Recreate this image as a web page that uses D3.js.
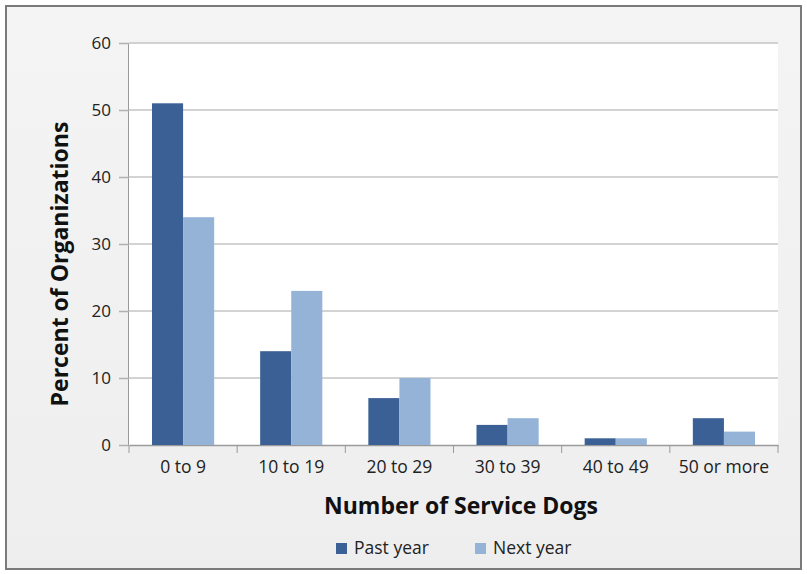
<!DOCTYPE html>
<html><head><meta charset="utf-8">
<script src="https://cdn.jsdelivr.net/npm/d3@7"></script>
<style>body{margin:0;background:#fff;}svg{display:block;}</style>
</head><body>
<script>
const categories = ["0 to 9","10 to 19","20 to 29","30 to 39","40 to 49","50 or more"];
const pastYear = [51,14,7,3,1,4];
const nextYear = [34,23,10,4,1,2];
const seriesNames = ["Past year","Next year"];
const yTicks = [0,10,20,30,40,50,60];
const colors = ["#3a6095","#95b3d7"];

(function(){
const W=807,H=574;
const svg=d3.select("body").append("svg").attr("width",W).attr("height",H);
const defs=svg.append("defs");
const g1=defs.append("linearGradient").attr("id","bg").attr("x1",0).attr("y1",0).attr("x2",0).attr("y2",1);
g1.append("stop").attr("offset","0%").attr("stop-color","#f4f4f4");
g1.append("stop").attr("offset","100%").attr("stop-color","#eeeeee");
svg.append("rect").attr("x",6).attr("y",6).attr("width",795).attr("height",563)
  .attr("fill","url(#bg)").attr("stroke","#7a7a7a").attr("stroke-width",2);

const pl=129,pr=778,pt=43,pb=445;
svg.append("rect").attr("x",pl).attr("y",pt).attr("width",pr-pl).attr("height",pb-pt).attr("fill","#fff");

const x=d3.scaleBand().domain(categories).range([pl,pr]).paddingInner(0).paddingOuter(0);
const x1=d3.scaleBand().domain(seriesNames).range([0,x.bandwidth()]).paddingInner(0).paddingOuter(0.74);
const y=d3.scaleLinear().domain([0,60]).range([pb,pt]);

const font="Open Sans, Liberation Sans, sans-serif";
svg.append("g").selectAll("line").data(yTicks.filter(d=>d>0)).join("line")
  .attr("x1",pl).attr("x2",pr).attr("y1",d=>y(d)).attr("y2",d=>y(d))
  .attr("stroke","#c4c4c4").attr("stroke-width",1.6);

const ya=svg.append("g").attr("transform",`translate(${pl},0)`)
  .call(d3.axisLeft(y).tickValues(yTicks).tickSize(10).tickPadding(8));
ya.select(".domain").attr("stroke","#9a9a9a").attr("d",`M-0.5,${pt}V${pb}`);
ya.selectAll(".tick line").attr("stroke","#b0b0b0").attr("stroke-width",1.5);
ya.selectAll("text").attr("font-family",font).attr("font-size",17).attr("fill","#222");

const xa=svg.append("g").attr("transform",`translate(0,${pb})`)
  .call(d3.axisBottom(x).tickSize(0).tickPadding(10));
xa.select(".domain").attr("stroke","#9a9a9a").attr("stroke-width",1.5);
xa.selectAll("text").attr("font-family",font).attr("font-size",17.5).attr("fill","#222").attr("dy","1.05em");
svg.append("g").selectAll("line").data(d3.range(categories.length+1)).join("line")
  .attr("x1",i=>pl+i*x.step()).attr("x2",i=>pl+i*x.step())
  .attr("y1",pb).attr("y2",pb+8).attr("stroke","#9a9a9a");

const data=categories.map((c,i)=>({c,vals:[pastYear[i],nextYear[i]]}));
const grp=svg.append("g").selectAll("g").data(data).join("g").attr("transform",d=>`translate(${x(d.c)},0)`);
grp.selectAll("rect").data(d=>d.vals.map((v,j)=>({v,s:seriesNames[j],j}))).join("rect")
  .attr("x",d=>x1(d.s)).attr("width",x1.bandwidth())
  .attr("y",d=>y(d.v)).attr("height",d=>y(0)-y(d.v)).attr("fill",d=>colors[d.j]);

svg.append("text").attr("transform",`translate(68,${(pt+pb)/2+20}) rotate(-90)`)
  .attr("text-anchor","middle").attr("font-family",font).attr("font-weight","bold")
  .attr("font-size",23).attr("fill","#111").text("Percent of Organizations");
svg.append("text").attr("x",461).attr("y",514).attr("text-anchor","middle")
  .attr("font-family",font).attr("font-weight","bold").attr("font-size",23).attr("fill","#111")
  .text("Number of Service Dogs");

const lx=[336,475];
seriesNames.forEach((s,i)=>{
  svg.append("rect").attr("x",lx[i]).attr("y",543).attr("width",11).attr("height",11).attr("fill",colors[i]);
  svg.append("text").attr("x",lx[i]+18).attr("y",554).attr("font-family",font).attr("font-size",17.5).attr("fill","#222").text(s);
});
})();
</script>
</body></html>
